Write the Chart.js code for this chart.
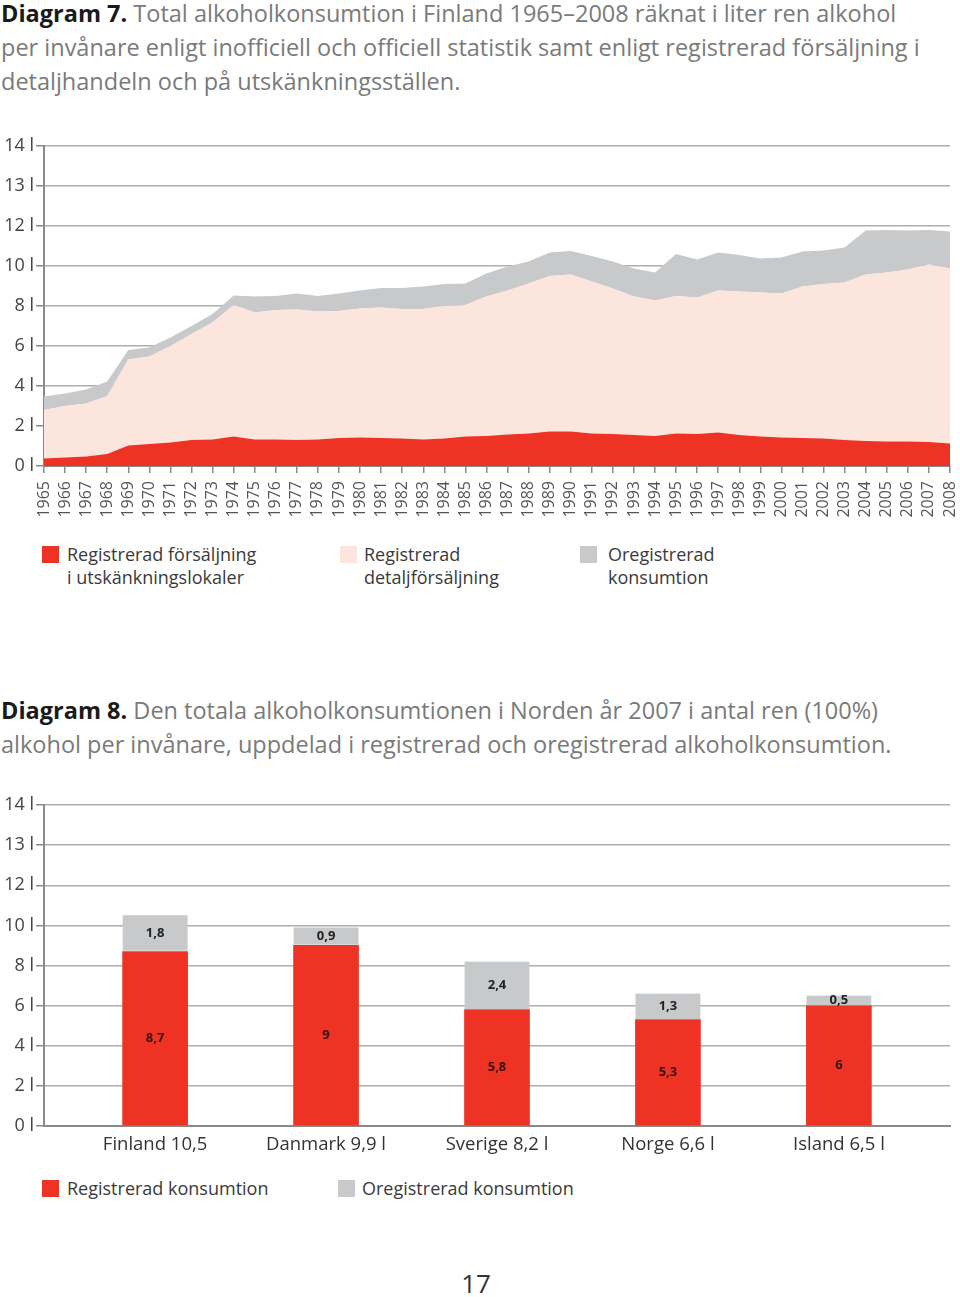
<!DOCTYPE html>
<html>
<head>
<meta charset="utf-8">
<script src="https://cdn.jsdelivr.net/npm/chart.js@4.4.1/dist/chart.umd.min.js"></script>
<style>
  body { margin: 0; background: #fff; width: 960px; height: 1297px; position: relative; overflow: hidden;
         font-family: "Open Sans", sans-serif; color: #333; }
  .title { position: absolute; left: 1px; font-size: 23.5px; line-height: 34px; color: #7a7a7a; white-space: nowrap; }
  .title b { color: #1a1a1a; }
  canvas { position: absolute; left: 0; }
  .leg { position: absolute; font-size: 18px; line-height: 23px; color: #3a3a3a; }
  .sw { position: absolute; width: 17px; height: 17px; }
  .pg { position: absolute; left: 0; width: 952px; text-align: center; top: 1265px; font-size: 26px; color: #333; }
</style>
</head>
<body>

<div class="title" style="top:-4px"><b>Diagram 7.</b> Total alkoholkonsumtion i Finland 1965–2008 räknat i liter ren alkohol<br>per invånare enligt inofficiell och officiell statistik samt enligt registrerad försäljning i<br>detaljhandeln och på utskänkningsställen.</div>
<canvas id="diagram7" width="960" height="400" style="top:136px;width:960px;height:400px"></canvas>

<div class="sw" style="left:42px;top:546px;background:#ee3224"></div>
<div class="leg" style="left:67px;top:543px">Registrerad försäljning<br>i utskänkningslokaler</div>
<div class="sw" style="left:340px;top:546px;background:#fce5dc"></div>
<div class="leg" style="left:364px;top:543px">Registrerad<br>detaljförsäljning</div>
<div class="sw" style="left:580px;top:546px;background:#c9c9cb"></div>
<div class="leg" style="left:608px;top:543px">Oregistrerad<br>konsumtion</div>

<div class="title" style="top:693px"><b>Diagram 8.</b> Den totala alkoholkonsumtionen i Norden år 2007 i antal ren (100%)<br>alkohol per invånare, uppdelad i registrerad och oregistrerad alkoholkonsumtion.</div>
<canvas id="diagram8" width="960" height="360" style="top:795px;width:960px;height:360px"></canvas>

<div class="sw" style="left:42px;top:1180px;background:#ee3224"></div>
<div class="leg" style="left:67px;top:1177px">Registrerad konsumtion</div>
<div class="sw" style="left:338px;top:1180px;background:#c9c9cb"></div>
<div class="leg" style="left:362px;top:1177px">Oregistrerad konsumtion</div>

<div class="pg">17</div>

<script>
// diagram 7 - liter ren alkohol per invånare
const years = [];
for (let y = 1965; y <= 2008; y++) years.push(String(y));

const utskankning = [0.38, 0.43, 0.47, 0.6, 1.03, 1.1, 1.17, 1.3, 1.33, 1.47,
  1.33, 1.33, 1.3, 1.33, 1.4, 1.43, 1.4, 1.37, 1.33, 1.37,
  1.47, 1.5, 1.57, 1.63, 1.72, 1.72, 1.63, 1.6, 1.55, 1.5,
  1.63, 1.6, 1.68, 1.55, 1.47, 1.43, 1.4, 1.37, 1.3, 1.25,
  1.22, 1.23, 1.2, 1.13];
const detalj = [2.42, 2.57, 2.66, 2.9, 4.3, 4.37, 4.83, 5.3, 5.84, 6.58,
  6.34, 6.47, 6.53, 6.39, 6.35, 6.45, 6.53, 6.48, 6.52, 6.63,
  6.58, 6.97, 7.2, 7.5, 7.78, 7.86, 7.59, 7.28, 6.92, 6.77,
  6.87, 6.83, 7.09, 7.17, 7.2, 7.2, 7.57, 7.73, 7.87, 8.33,
  8.45, 8.6, 8.87, 8.75];
const oregistrerad = [0.67, 0.63, 0.70, 0.72, 0.47, 0.46, 0.43, 0.4, 0.43, 0.47,
  0.8, 0.7, 0.8, 0.78, 0.88, 0.89, 0.97, 1.05, 1.12, 1.1,
  1.08, 1.16, 1.2, 1.09, 1.17, 1.17, 1.28, 1.34, 1.41, 1.4,
  2.1, 1.9, 1.9, 1.83, 1.71, 1.79, 1.75, 1.67, 1.76, 2.19,
  2.13, 1.94, 1.73, 1.84];

// diagram 8 - Norden 2007
const lander = ['Finland 10,5', 'Danmark 9,9 l', 'Sverige 8,2 l', 'Norge 6,6 l', 'Island 6,5 l'];
const registrerad = [8.7, 9, 5.8, 5.3, 6];
const oreg2007 = [1.8, 0.9, 2.4, 1.3, 0.5];

// tick labels as printed on the axis (value 14 and 16 carry "13 l" and "14 l")
const tickValues = [0, 2, 4, 6, 8, 10, 12, 14, 16];
const tickLabels = ['0 l', '2 l', '4 l', '6 l', '8 l', '10 l', '12 l', '13 l', '14 l'];

const RED = '#ee3224', PINK = '#fce5dc', GRAY = '#c8c9cb';
const FONT = '"Open Sans", sans-serif';

function yAxis() {
  return {
    stacked: true,
    min: 0, max: 16,
    afterFit: s => { s.width = 44; s.paddingTop = 0; s.paddingBottom = 0; },
    border: { color: '#8a8a8a', width: 2 },
    grid: {
      color: '#aeaeae', lineWidth: 1.5, tickLength: 8,
      tickColor: c => (c.tick && c.tick.value % 2 === 0) ? '#8a8a8a' : 'rgba(0,0,0,0)'
    },
    ticks: {
      stepSize: 1, padding: 2, color: '#444',
      font: { family: FONT, size: 18 },
      callback: v => { const i = tickValues.indexOf(v); return i < 0 ? '' : tickLabels[i]; }
    }
  };
}

new Chart(document.getElementById('diagram7'), {
  type: 'line',
  data: {
    labels: years,
    datasets: [
      { label: 'Registrerad försäljning i utskänkningslokaler', data: utskankning, backgroundColor: RED, fill: 'origin' },
      { label: 'Registrerad detaljförsäljning', data: detalj, backgroundColor: PINK, fill: '-1' },
      { label: 'Oregistrerad konsumtion', data: oregistrerad, backgroundColor: GRAY, fill: '-1' }
    ]
  },
  options: {
    responsive: false,
    animation: false,
    layout: { padding: { top: 10, right: 10 } },
    elements: { point: { radius: 0 }, line: { borderWidth: 0, tension: 0 } },
    plugins: { legend: { display: false }, tooltip: { enabled: false } },
    scales: {
      x: {
        afterFit: s => { s.height = 70; s.paddingLeft = 0; s.paddingRight = 0; },
        border: { color: '#8a8a8a', width: 2 },
        grid: { drawOnChartArea: false, tickLength: 7, tickColor: '#8a8a8a', lineWidth: 1.5 },
        ticks: { autoSkip: false, minRotation: 90, maxRotation: 90, padding: 8, color: '#555',
                 font: { family: FONT, size: 16 } }
      },
      y: yAxis()
    }
  }
});

// siffror i staplarna
const barValues = {
  id: 'barValues',
  afterDatasetsDraw(chart) {
    const ctx = chart.ctx;
    ctx.save();
    ctx.font = 'bold 13px ' + FONT;
    ctx.textAlign = 'center';
    ctx.textBaseline = 'middle';
    chart.data.datasets.forEach((ds, i) => {
      chart.getDatasetMeta(i).data.forEach((bar, j) => {
        ctx.fillStyle = i === 0 ? '#3a1210' : '#222';
        ctx.fillText(String(ds.data[j].y).replace('.', ','), bar.x, (bar.y + bar.base) / 2);
      });
    });
    ctx.restore();
  }
};

new Chart(document.getElementById('diagram8'), {
  type: 'bar',
  data: {
    datasets: [
      { label: 'Registrerad konsumtion', data: registrerad.map((v, i) => ({ x: i + 1, y: v })), backgroundColor: RED },
      { label: 'Oregistrerad konsumtion', data: oreg2007.map((v, i) => ({ x: i + 1, y: v })), backgroundColor: GRAY,
        borderColor: '#fff', borderWidth: { bottom: 1, top: 0, left: 0, right: 0 }, borderSkipped: false }
    ]
  },
  options: {
    responsive: false,
    animation: false,
    barThickness: 65,
    layout: { padding: { top: 10, right: 10 } },
    plugins: { legend: { display: false }, tooltip: { enabled: false } },
    scales: {
      x: {
        type: 'linear', stacked: true, offset: false,
        min: 0.35, max: 5.65,
        afterBuildTicks: s => { s.ticks = lander.map((_, i) => ({ value: i + 1 })); },
        afterFit: s => { s.height = 29; s.paddingLeft = 0; s.paddingRight = 0; },
        border: { color: '#8a8a8a', width: 2 },
        grid: { display: false },
        ticks: { padding: 0, color: '#333', font: { family: FONT, size: 18.5 },
                 callback: v => lander[v - 1] || '' }
      },
      y: yAxis()
    }
  },
  plugins: [barValues]
});
</script>
</body>
</html>
